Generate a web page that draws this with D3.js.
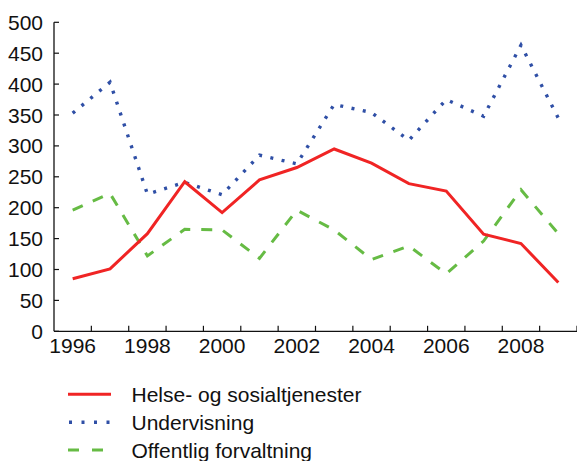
<!DOCTYPE html>
<html><head><meta charset="utf-8">
<script src="https://cdn.jsdelivr.net/npm/d3@7"></script>
<style>body{margin:0;background:#fff}svg{display:block}text{font-family:"Liberation Sans",Arial,sans-serif;fill:#111}</style>
</head><body>
<svg id="c" width="577" height="461"></svg>
<script>
const years = [1996,1997,1998,1999,2000,2001,2002,2003,2004,2005,2006,2007,2008,2009];
const helse = [85,101,158,242,192,245,265,295,272,239,227,157,142,79];
const undervisning = [353,403,222,241,221,285,271,367,354,309,375,348,463,345];
const offentlig = [196,223,122,165,164,118,196,164,116,138,93,146,229,158];
const yTicks = [0,50,100,150,200,250,300,350,400,450,500];
const xLabels = [1996,1998,2000,2002,2004,2006,2008];
const seriesNames = ["Helse- og sosialtjenester","Undervisning","Offentlig forvaltning"];

const svg = d3.select("#c");
const x = d3.scaleBand().domain(years).range([54, 577]).padding(0);
const y = d3.scaleLinear().domain([0,500]).range([331.3, 22.3]);

// y axis
svg.append("line").attr("x1",54).attr("x2",54).attr("y1",y(500)).attr("y2",y(0)).attr("stroke","#111").attr("stroke-width",1.3);
const yt = svg.append("g");
yTicks.forEach(v=>{
  yt.append("line").attr("x1",54).attr("x2",59).attr("y1",y(v)).attr("y2",y(v)).attr("stroke","#111").attr("stroke-width",1.2);
  yt.append("text").attr("x",43).attr("y",y(v)).attr("dy","0.36em").attr("text-anchor","end").attr("font-size",21).text(v);
});
// x axis
svg.append("line").attr("x1",54).attr("x2",577).attr("y1",y(0)).attr("y2",y(0)).attr("stroke","#111").attr("stroke-width",1.3);
years.forEach(yr=>{
  const bx = x(yr)+x.bandwidth();
  svg.append("line").attr("x1",bx).attr("x2",bx).attr("y1",y(0)).attr("y2",y(0)-5.5).attr("stroke","#111").attr("stroke-width",1.2);
});
xLabels.forEach(yr=>{
  svg.append("text").attr("x",x(yr)+x.bandwidth()/2).attr("y",353).attr("text-anchor","middle").attr("font-size",21).text(yr);
});

const styles = [
  {data:helse, color:"#f02424", width:3, dash:null},
  {data:undervisning, color:"#2f4fa6", width:3.4, dash:"3,8.5"},
  {data:offentlig, color:"#66bb44", width:3, dash:"11,11"}
];
const line = d3.line().x((d,i)=>x(years[i])+x.bandwidth()/2).y(d=>y(d));
[2,1,0].forEach(k=>{
  const s = styles[k];
  const p = svg.append("path").attr("d",line(s.data)).attr("fill","none").attr("stroke",s.color).attr("stroke-width",s.width).attr("stroke-linejoin","miter");
  if(s.dash) p.attr("stroke-dasharray",s.dash);
});

// legend
const legY = [394.3,422.3,450];
seriesNames.forEach((n,k)=>{
  const s = styles[k];
  const l = svg.append("line").attr("x1",68).attr("x2",111).attr("y1",legY[k]).attr("y2",legY[k]).attr("stroke",s.color).attr("stroke-width",s.width);
  if(k===1) l.attr("stroke-dasharray","3,9.5").attr("x1",69);
  if(k===2) l.attr("stroke-dasharray","11,13");
  svg.append("text").attr("x",131.5).attr("y",legY[k]).attr("dy","0.36em").attr("font-size",21).text(n);
});
</script>
</body></html>
